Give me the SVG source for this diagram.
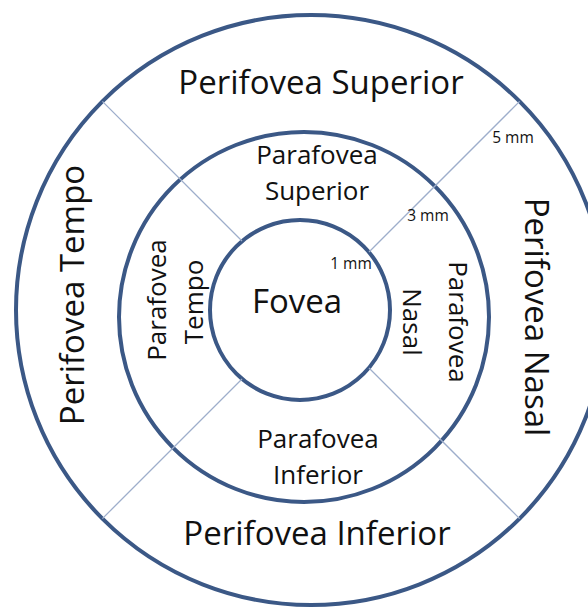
<svg xmlns="http://www.w3.org/2000/svg" width="588" height="608" viewBox="0 0 588 608">
  <style>
    .ring { fill: none; stroke: #3b5886; stroke-width: 4; }
    .div { stroke: #9eaecb; stroke-width: 1.3; fill: none; }
    .lbl { font-family: "Open Sans", "Noto Sans", "Liberation Sans", sans-serif; fill: #111; text-anchor: middle; }
    .big { font-size: 33px; }
    .mid { font-size: 26px; }
    .small { font-size: 15.5px; }
  </style>
  <rect x="0" y="0" width="588" height="608" fill="#ffffff"/>
  <g id="rings">
    <circle id="outer-ring" class="ring" cx="311" cy="310" r="295"/>
    <circle id="middle-ring" class="ring" cx="304" cy="317" r="185"/>
    <circle id="inner-ring" class="ring" cx="300" cy="310" r="90"/>
  </g>
  <g id="connectors">
    <line class="div" x1="102.4" y1="101.4" x2="242" y2="241"/>
    <line class="div" x1="519.6" y1="101.4" x2="369" y2="252"/>
    <line class="div" x1="102.4" y1="518.6" x2="242" y2="379"/>
    <line class="div" x1="519.6" y1="518.6" x2="369" y2="368"/>
  </g>
  <g id="perifovea-superior"><text class="lbl big" x="321" y="94">Perifovea Superior</text></g>
  <g id="perifovea-inferior"><text class="lbl big" x="317" y="545">Perifovea Inferior</text></g>
  <g id="perifovea-tempo"><text class="lbl big" transform="translate(84,295) rotate(-90)">Perifovea Tempo</text></g>
  <g id="perifovea-nasal"><text class="lbl big" transform="translate(525,317) rotate(90)">Perifovea Nasal</text></g>
  <g id="parafovea-superior">
    <text class="lbl mid" x="317" y="164">Parafovea</text>
    <text class="lbl mid" x="317" y="200">Superior</text>
  </g>
  <g id="parafovea-inferior">
    <text class="lbl mid" x="318" y="448">Parafovea</text>
    <text class="lbl mid" x="318" y="484">Inferior</text>
  </g>
  <g id="parafovea-tempo">
    <text class="lbl mid" transform="translate(166,300) rotate(-90)">Parafovea</text>
    <text class="lbl mid" transform="translate(203,302) rotate(-90)">Tempo</text>
  </g>
  <g id="parafovea-nasal">
    <text class="lbl mid" transform="translate(449,322) rotate(90)">Parafovea</text>
    <text class="lbl mid" transform="translate(403,322) rotate(90)">Nasal</text>
  </g>
  <g id="fovea"><text class="lbl big" x="297" y="313">Fovea</text></g>
  <g id="dimensions">
    <text class="lbl small" x="351" y="269">1 mm</text>
    <text class="lbl small" x="428" y="221">3 mm</text>
    <text class="lbl small" x="513" y="143">5 mm</text>
  </g>
</svg>
